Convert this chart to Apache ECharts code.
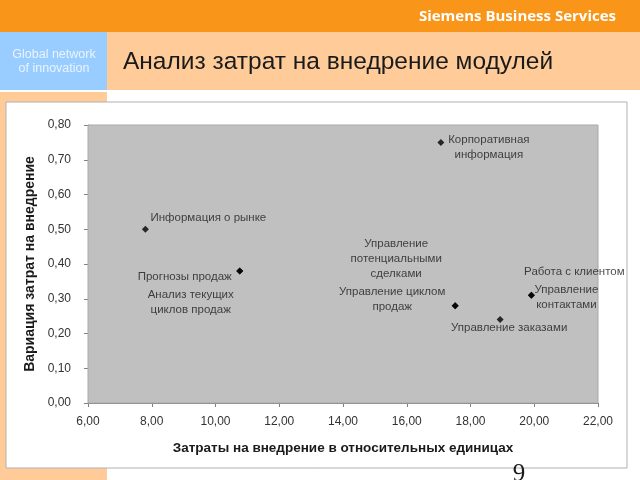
<!DOCTYPE html>
<html><head><meta charset="utf-8">
<script src="https://cdn.jsdelivr.net/npm/echarts@6/dist/echarts.min.js"></script>
<style>html,body{margin:0;padding:0;background:#fff}#c{width:640px;height:480px}</style>
</head><body><div id="c"></div>
<script>
const moduleNames = ['Информация о рынке','Прогнозы продаж','Анализ текущих\nциклов продаж','Корпоративная\nинформация','Управление\nпотенциальными\nсделками','Управление циклом\nпродаж','Управление заказами','Управление\nконтактами','Работа с клиентом'];
const costValues = [7.8, 10.76, 10.76, 17.07, 17.52, 17.52, 18.93, 19.91, 19.91];
const variationValues = [0.50, 0.38, 0.38, 0.75, 0.28, 0.28, 0.24, 0.31, 0.31];
const xTicks = [6,8,10,12,14,16,18,20,22];
const yTicks = [0,0.1,0.2,0.3,0.4,0.5,0.6,0.7,0.8];

// label layout (pixels relative to marker) - styling only
const labelOffsets = [[63,-11],[-55,6],[-49,31],[48,5],[-59,-47],[-63,-6],[9,8],[35,2],[43,-23]];

const font = 'Arial, "Liberation Sans", sans-serif';
const fmt = v => v.toFixed(2).replace('.', ',');

const chart = echarts.init(document.getElementById('c'), null, {renderer:'canvas'});
chart.setOption({
  animation:false,
  graphic:{elements:[
    {type:'rect', z:-10, shape:{x:0,y:0,width:640,height:32}, style:{fill:'#F9961A'}},
    {type:'rect', z:-10, shape:{x:0,y:32,width:107,height:58}, style:{fill:'#99CCFF'}},
    {type:'rect', z:-10, shape:{x:107,y:32,width:533,height:58}, style:{fill:'#FFCC99'}},
    {type:'rect', z:-10, shape:{x:0,y:92,width:107,height:388}, style:{fill:'#FFCC99'}},
    {type:'rect', z:-9, shape:{x:6,y:102,width:621,height:366}, style:{fill:'#FFFFFF', stroke:'#B0B0B0', lineWidth:1}},
    {type:'text', z:-8, x:616, y:17, style:{text:'Siemens Business Services', fill:'#FFFFFF', font:'bold 15px "Open Sans", sans-serif', align:'right', verticalAlign:'middle'}},
    {type:'text', z:-8, x:54, y:55, style:{text:'Global network', fill:'#EAF4FF', font:'12.5px '+font, align:'center', verticalAlign:'middle'}},
    {type:'text', z:-8, x:54, y:69, style:{text:'of innovation', fill:'#EAF4FF', font:'12.5px '+font, align:'center', verticalAlign:'middle'}},
    {type:'text', z:-8, x:123, y:62, style:{text:'Анализ затрат на внедрение модулей', fill:'#1A1A1A', font:'24.5px '+font, align:'left', verticalAlign:'middle'}},
    {type:'text', z:-8, x:519, y:474, style:{text:'9', fill:'#1A1A1A', font:'25px "Liberation Serif", "DejaVu Serif", serif', align:'center', verticalAlign:'middle'}}
  ]},
  grid:{left:88, right:42, top:125, bottom:77, show:true, backgroundColor:'#C0C0C0', borderColor:'#A8A8A8', borderWidth:1, z:1},
  xAxis:{
    type:'value', min:6, max:22, interval:2,
    name:'Затраты на внедрение в относительных единицах', nameLocation:'middle', nameGap:38,
    nameTextStyle:{fontFamily:font, fontSize:13.5, fontWeight:'bold', color:'#1A1A1A'},
    axisLine:{show:true, lineStyle:{color:'#808080'}},
    axisTick:{show:true, length:4, lineStyle:{color:'#808080'}},
    axisLabel:{formatter:fmt, fontFamily:font, fontSize:12, color:'#333', margin:13},
    splitLine:{show:false}
  },
  yAxis:{
    type:'value', min:0, max:0.8, interval:0.1,
    name:'Вариация затрат на внедрение', nameLocation:'middle', nameGap:51, nameRotate:90,
    nameTextStyle:{fontFamily:font, fontSize:14, fontWeight:'bold', color:'#1A1A1A'},
    axisLine:{show:true, lineStyle:{color:'#808080'}},
    axisTick:{show:true, length:4, lineStyle:{color:'#808080'}},
    axisLabel:{formatter:fmt, fontFamily:font, fontSize:12, color:'#333', margin:17},
    splitLine:{show:true, lineStyle:{color:'#7A7A7A', width:1}}
  },
  series:[{
    type:'scatter', symbol:'diamond', symbolSize:7, z:3,
    itemStyle:{color:'#000'},
    data: moduleNames.map((n,i)=>({
      name:n, value:[costValues[i], variationValues[i]],
      label:{show:true, position:'inside', offset:labelOffsets[i], formatter:n,
        fontFamily:font, fontSize:11.5, color:'#1A1A1A', lineHeight:15, align:'center', verticalAlign:'middle'}
    }))
  }]
});
</script></body></html>
